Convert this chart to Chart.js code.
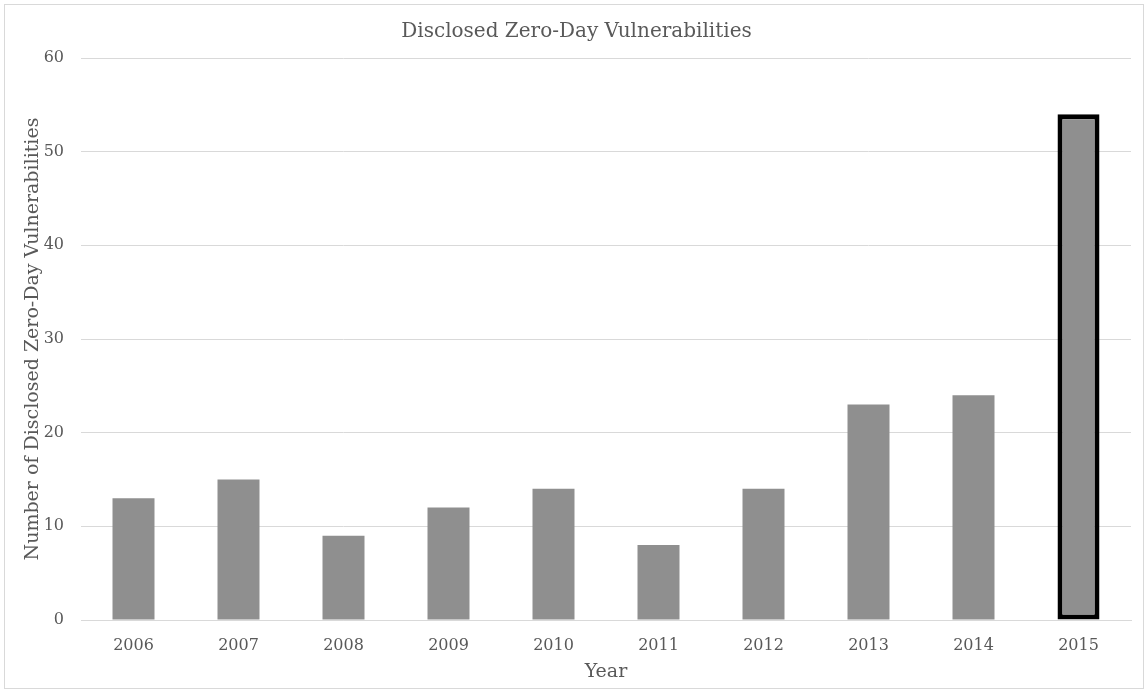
<!DOCTYPE html>
<html>
<head>
<meta charset="utf-8">
<script src="https://cdn.jsdelivr.net/npm/chart.js@4"></script>
<style>
  html, body { margin: 0; padding: 0; background: #fff; }
  #wrap { position: absolute; left: 4px; top: 4px; width: 1138px; height: 683px; border: 1px solid #d9d9d9; }
  #chart { position: absolute; left: 0; top: 0; }
</style>
</head>
<body>
<div id="wrap"></div>
<canvas id="chart" width="1144" height="689"></canvas>
<script>
// chart data
const years = ["2006", "2007", "2008", "2009", "2010", "2011", "2012", "2013", "2014", "2015"];
const vulnCounts = [13, 15, 9, 12, 14, 8, 14, 23, 24, 54];
const highlightYear = "2015";

const serif = "'DejaVu Serif', 'Liberation Serif', serif";
const textGrey = "#595959";

const ctx = document.getElementById("chart").getContext("2d");

new Chart(ctx, {
  type: "bar",
  data: {
    labels: years,
    datasets: [
      {
        label: "Zero-Day Vulnerabilities",
        data: vulnCounts,
        backgroundColor: "#8f8f8f",
        borderColor: years.map((y) => (y === highlightYear ? "#000" : "rgba(0,0,0,0)")),
        borderWidth: years.map((y) => (y === highlightYear ? 5 : 0)),
        borderSkipped: false,
        barPercentage: 0.8,
        categoryPercentage: 0.5,
      },
    ],
  },
  options: {
    responsive: false,
    animation: false,
    layout: {
      padding: { left: 22, right: 13, top: 12, bottom: 6 },
    },
    plugins: {
      legend: { display: false },
      tooltip: { enabled: false },
      title: {
        display: true,
        text: "Disclosed Zero-Day Vulnerabilities",
        color: textGrey,
        font: { family: serif, size: 20, weight: "normal" },
        padding: { top: 8, bottom: 14 },
      },
    },
    scales: {
      x: {
        afterFit: (scale) => { scale.height = 63; },
        grid: { display: false },
        border: { color: "#d9d9d9" },
        ticks: {
          color: textGrey,
          font: { family: serif, size: 16 },
          padding: 8,
        },
        title: {
          display: true,
          text: "Year",
          color: textGrey,
          font: { family: serif, size: 19 },
          padding: { top: 4, bottom: 0 },
        },
      },
      y: {
        afterFit: (scale) => { scale.width = 59; },
        min: 0,
        max: 60,
        ticks: {
          stepSize: 10,
          color: textGrey,
          font: { family: serif, size: 16 },
          padding: 17,
        },
        grid: { color: "#d9d9d9", drawTicks: false },
        border: { display: false },
        title: {
          display: true,
          text: "Number of Disclosed Zero-Day Vulnerabilities",
          color: textGrey,
          font: { family: serif, size: 19 },
          padding: { top: 0, bottom: 3 },
        },
      },
    },
  },
});
</script>
</body>
</html>
